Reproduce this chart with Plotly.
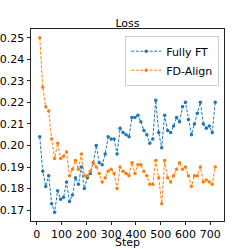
import plotly.graph_objects as go

steps = [12 * k for k in range(1, 61)]
fully_ft = [0.204, 0.188, 0.181, 0.186, 0.173, 0.169, 0.179, 0.175, 0.176, 0.183,
            0.174, 0.177, 0.185, 0.182, 0.190, 0.180, 0.185, 0.187, 0.192, 0.200,
            0.192, 0.191, 0.196, 0.204, 0.203, 0.203, 0.196, 0.208, 0.206, 0.205,
            0.204, 0.213, 0.213, 0.214, 0.211, 0.207, 0.205, 0.201, 0.203, 0.221,
            0.206, 0.199, 0.214, 0.207, 0.206, 0.209, 0.213, 0.211, 0.218, 0.220,
            0.212, 0.205, 0.210, 0.215, 0.220, 0.210, 0.208, 0.209, 0.206, 0.220]
fd_align = [0.250, 0.227, 0.218, 0.216, 0.203, 0.194, 0.201, 0.194, 0.195, 0.197,
            0.186, 0.189, 0.193, 0.189, 0.196, 0.186, 0.186, 0.188, 0.192, 0.190,
            0.187, 0.183, 0.185, 0.188, 0.189, 0.187, 0.180, 0.190, 0.188, 0.187,
            0.186, 0.192, 0.187, 0.191, 0.191, 0.188, 0.186, 0.182, 0.182, 0.193,
            0.185, 0.173, 0.193, 0.185, 0.183, 0.186, 0.189, 0.192, 0.189, 0.190,
            0.186, 0.181, 0.186, 0.186, 0.190, 0.183, 0.184, 0.183, 0.182, 0.190]
x_ticks = [0, 100, 200, 300, 400, 500, 600, 700]
y_ticks = [0.17, 0.18, 0.19, 0.20, 0.21, 0.22, 0.23, 0.24, 0.25]
y_tick_text = ["%.2f" % v for v in y_ticks]

def padded(lo, hi, frac=0.05):
    d = (hi - lo) * frac
    return [lo - d, hi + d]

FONT = "DejaVu Sans"
FS = 11
fig = go.Figure()
for name, vals, col in [("Fully FT", fully_ft, "#1f77b4"), ("FD-Align", fd_align, "#ff7f0e")]:
    fig.add_trace(go.Scatter(
        x=steps, y=vals, name=name, mode="lines+markers",
        line=dict(color=col, width=1, dash="3px,1.6px"),
        marker=dict(color=col, size=3.5),
    ))

axis_common = dict(showline=True, mirror=True, linecolor="#222", linewidth=1,
                   ticks="outside", tickwidth=1, tickcolor="#222",
                   showgrid=False, zeroline=False, automargin=False,
                   tickfont=dict(family=FONT, size=FS, color="black"))
fig.update_xaxes(range=padded(min(steps), max(steps)), tickvals=x_ticks, ticklen=3, **axis_common)
fig.update_yaxes(range=padded(min(min(fully_ft), min(fd_align)), max(max(fully_ft), max(fd_align))),
                 tickvals=y_ticks, ticktext=y_tick_text, ticklen=3.5, **axis_common)
fig.add_annotation(text="Step", xref="paper", x=0.5, yref="paper", y=-28 / 192,
                   xanchor="center", yanchor="bottom", showarrow=False, borderpad=0,
                   height=12, valign="middle",
                   font=dict(family=FONT, size=FS, color="black"))
fig.update_layout(
    width=249, height=249,
    margin=dict(l=31, r=25, t=29, b=28),
    paper_bgcolor="white", plot_bgcolor="white",
    title=dict(text="Loss", x=0.5, xref="paper", y=1 - 23 / 249, yref="container",
               xanchor="center", yanchor="middle",
               font=dict(family=FONT, size=FS, color="black")),
    legend=dict(x=0.975, y=0.965, xanchor="right", yanchor="top",
                bordercolor="#ccc", borderwidth=1, bgcolor="rgba(255,255,255,0.8)",
                font=dict(family=FONT, size=FS, color="black"),
                itemwidth=30, tracegroupgap=0),
    showlegend=True,
)
fig.write_html("out.html", config={"displayModeBar": False},
               post_script="document.body.style.margin='0';")
